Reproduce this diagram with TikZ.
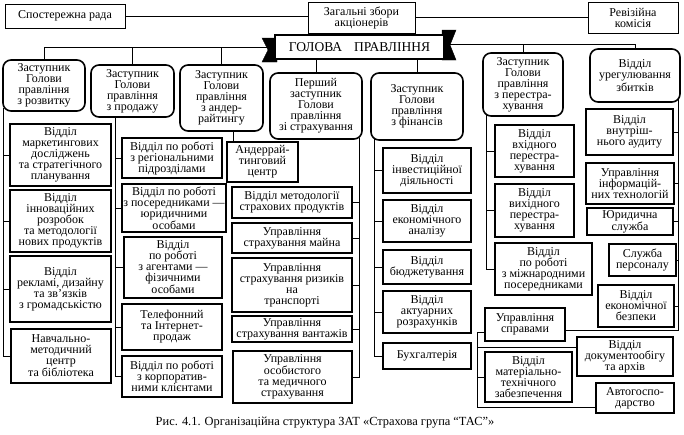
\documentclass[tikz,border=0pt]{standalone}
\usepackage{fontspec}
\setmainfont{Liberation Serif}
\tikzset{
  base/.style={draw, line width=1.4pt, inner sep=1pt, align=center, fill=white,
    font=\fontsize{12}{11}\selectfont},
  rbox/.style={base, rounded corners=8pt, line width=1.6pt},
  sbox/.style={base},
  tbox/.style={base, line width=1pt},
  conn/.style={line width=0.8pt},
  ear/.style={fill=black, draw=black},
}
\newcommand\obox[7][sbox]{%
  \node[#1, minimum width={(#5-#3)*1pt}, minimum height={(#6-#4)*1pt}]
    (#2) at ({(#3+#5)/2},{(#4+#6)/2}) {#7};}
\begin{document}
\begin{tikzpicture}[x=1pt,y=-1pt]
\useasboundingbox (0,0) rectangle (684,434);
% top row
\obox[tbox]{sr}{5}{4}{125}{28}{Спостережна рада}
\obox[tbox]{zz}{308}{2}{415}{33}{Загальні збори\\акціонерів}
\obox[tbox]{rk}{588}{2}{678}{33}{Ревізійна\\комісія}
% ribbon ears
\fill[ear] (262,38) -- (277,38) -- (277,62) -- (262,62) -- (268,50) -- cycle;
\fill[ear] (442,30) -- (456,30) -- (450,45) -- (456,60) -- (442,60) -- cycle;
\node[base, line width=1.3pt, minimum width=169pt, minimum height=24pt,
  font=\fontsize{13.5}{13.5}\selectfont] (gp) at (359.5,47) {ГОЛОВА\hspace{12pt}ПРАВЛІННЯ};
% heads
\obox[rbox]{c1}{3}{60}{85}{111}{Заступник\\Голови\\правління\\з розвитку}
\obox[rbox]{c2}{91}{65}{174}{117}{Заступник\\Голови\\правління\\з продажу}
\obox[rbox]{c3}{180}{65}{263}{131}{Заступник\\Голови\\правління\\з андер-\\райтингу}
\obox[rbox]{c4}{270}{73}{362}{139}{Перший\\заступник\\Голови\\правління\\зі страхування}
\obox[rbox]{c5}{371}{73}{463}{140}{Заступник\\Голови\\правління\\з фінансів}
\obox[rbox]{c6}{483}{53}{563}{116}{Заступник\\Голови\\правління\\з перестра-\\хування}
\obox[rbox]{c7}{590}{49}{680}{102}{Відділ\\урегулювання\\збитків}
% column 1
\obox{a1}{10}{124}{111}{186}{Відділ\\маркетингових\\досліджень\\та стратегічного\\планування}
\obox{a2}{10}{190}{111}{252}{Відділ\\інноваційних\\розробок\\та методології\\нових продуктів}
\obox{a3}{10}{256}{111}{322}{Відділ\\рекламі, дизайну\\та зв'язків\\з громадськістю}
\obox{a4}{11}{329}{111}{383}{Навчально-\\методичний\\центр\\та бібліотека}
% column 2
\obox{e}{122}{138}{222}{178}{Відділ по роботі\\з регіональними\\підрозділами}
\obox{f}{122}{184}{226}{232}{Відділ по роботі\\з посередниками —\\юридичними\\особами}
\obox{g}{124}{237}{222}{298}{Відділ\\по роботі\\з агентами —\\фізичними\\особами}
\obox{h}{122}{304}{222}{350}{Телефонний\\та Інтернет-\\продаж}
\obox{i}{122}{356}{222}{397}{Відділ по роботі\\з корпоратив-\\ними клієнтами}
% column 3
\obox{j}{227}{142}{298}{182}{Андеррай-\\тинговий\\центр}
% column 4
\obox{k}{232}{187}{352}{218}{Відділ методології\\страхових продуктів}
\obox{l}{232}{223}{352}{253}{Управління\\страхування майна}
\obox{m}{232}{258}{352}{312}{Управління\\страхування ризиків\\на\\транспорті}
\obox{n}{232}{316}{352}{342}{Управління\\страхування вантажів}
\obox{o}{233}{351}{352}{403}{Управління\\особистого\\та медичного\\страхування}
% column 5
\obox{p}{383}{148}{471}{193}{Відділ\\інвестиційної\\діяльності}
\obox{q}{383}{200}{471}{242}{Відділ\\економічного\\аналізу}
\obox{r}{383}{250}{471}{284}{Відділ\\бюджетування}
\obox{s}{383}{291}{471}{333}{Відділ\\актуарних\\розрахунків}
\obox{t}{383}{343}{471}{369}{Бухгалтерія}
% column 6
\obox{u}{495}{125}{574}{177}{Відділ\\вхідного\\перестра-\\хування}
\obox{v}{495}{184}{574}{237}{Відділ\\вихідного\\перестра-\\хування}
\obox{w}{495}{243}{592}{295}{Відділ\\по роботі\\з міжнародними\\посередниками}
% column 7
\obox{x}{586}{109}{673}{155}{Відділ\\внутріш-\\нього аудиту}
\obox{y}{586}{163}{674}{204}{Управління\\інформацій-\\них технологій}
\obox{z}{587}{208}{673}{235}{Юридична\\служба}
\obox{aa}{609}{244}{676}{276}{Служба\\персоналу}
\obox{ab}{598}{285}{674}{327}{Відділ\\економічної\\безпеки}
\obox{ac}{485}{308}{565}{341}{Управління\\справами}
\obox{ad}{577}{337}{673}{376}{Відділ\\документообігу\\та архів}
\obox{ae}{485}{352}{572}{402}{Відділ\\матеріально-\\технічного\\забезпечення}
\obox{af}{596}{383}{674}{413}{Автогоспо-\\дарство}
% caption
\node[font=\fontsize{12.4}{13}\selectfont] (cap) at (325,423)
  {Рис. 4.1. Організаційна структура ЗАТ «Страхова група “ТАС”»};
% connectors
\draw[conn] (sr.east) -- (sr.east -| zz.west);
\draw[conn] (zz.east) -- (zz.east -| rk.west);
\draw[conn] (zz.south) -- (zz.south |- gp.north);
\draw[conn] (gp.west) -| (c1.north);
\draw[conn] (gp.west) -| (c2.north);
\draw[conn] (gp.west) -| (c3.north);
\draw[conn] (c4.north |- gp.south) -- (c4.north);
\draw[conn] (c5.north |- gp.south) -- (c5.north);
\draw[conn] ([yshift=3pt]gp.east) -| (c6.north);
\draw[conn] ([yshift=3pt]gp.east) -| (c7.north);
\foreach \n in {a1,a2,a3,a4} \draw[conn] ([xshift=1pt,yshift=4pt]c1.south west) |- (\n.west);
\foreach \n in {e,f,g,h,i} \draw[conn] ([xshift=25pt]c2.south west) |- (\n.west);
\coordinate (j3) at ([xshift=7pt]j.north west);
\draw[conn] (j3) -- (j3 |- c3.south);
\foreach \n in {k,l,m,n,o} \draw[conn] ([xshift=-3pt,yshift=2pt]c4.south east) |- (\n.east);
\foreach \n in {p,q,r,s,t} \draw[conn] ([xshift=4pt,yshift=3pt]c5.south west) |- (\n.west);
\foreach \n in {u,v,w} \draw[conn] ([xshift=4pt,yshift=3pt]c6.south west) |- (\n.west);
\foreach \n in {x,y,z,aa,ab} \draw[conn] ([xshift=-2pt,yshift=4pt]c7.south east) |- (\n.east);
\draw[conn] ([xshift=-2pt,yshift=4pt]c7.south east) |- ([yshift=-5.5pt]ac.east);
\coordinate (vA) at ([xshift=-7pt,yshift=-7.5pt]ac.west);
\draw[conn] ([yshift=-7.5pt]ac.west) -- (vA) |- ([yshift=9.5pt]ad.west);
\draw[conn] (vA) |- (ae.west);
\draw[conn] (vA) |- ([yshift=-9.5pt]af.west);
\end{tikzpicture}
\end{document}
